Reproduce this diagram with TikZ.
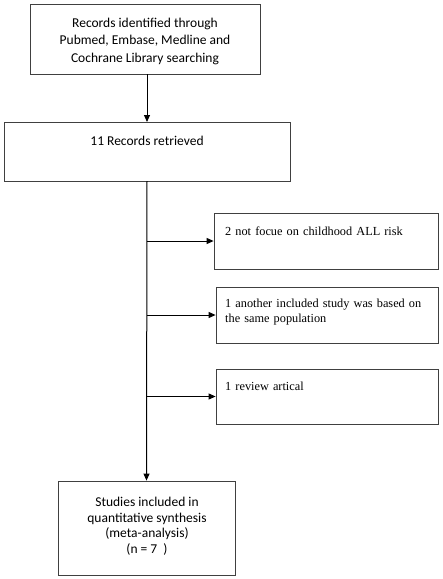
\documentclass[tikz,border=0pt]{standalone}
\usepackage{fontspec}
\setmainfont{Carlito}
\newfontfamily\tms{Liberation Serif}
\usetikzlibrary{arrows.meta}
\begin{document}
\begin{tikzpicture}[x=1pt,y=-1pt,
  boxc/.style={draw=black!75,line width=0.8pt,inner sep=0pt},
  flow/.style={draw=black,line width=1pt,-{Triangle[length=7pt,width=6pt]}},
  ctxt/.style={align=center,font=\fontsize{13.5}{17.5}\selectfont,inner sep=0pt},
  stxt/.style={align=left,anchor=north west,font=\tms\fontsize{12.3}{15}\selectfont,inner sep=0pt,text width=210pt}
]
\useasboundingbox (0,0) rectangle (443,579);
% boxes
\node[boxc,minimum width=230pt,minimum height=70pt] (b1) at (145,39) {};
\node[ctxt] (t1) at (145,41) {Records identified through\\Pubmed, Embase, Medline and\\Cochrane Library searching};
\node[boxc,minimum width=286pt,minimum height=59pt] (b2) at (147,151.5) {};
\node[ctxt] (t2) at (147,141) {11 Records retrieved};
\node[boxc,minimum width=224pt,minimum height=56pt] (bA) at (326,241) {};
\node[stxt] (tA) at (225,227) {2 not focue on childhood ALL risk};
\node[boxc,minimum width=222pt,minimum height=56pt] (bB) at (327,315) {};
\node[stxt] (tB) at (225,299) {1 another included study was based on\\the same population};
\node[boxc,minimum width=222pt,minimum height=55pt] (bC) at (327,396.5) {};
\node[stxt] (tC) at (225,382) {1 review artical};
\node[boxc,minimum width=177pt,minimum height=94pt] (b3) at (146.5,528) {};
\node[ctxt,font=\fontsize{13.5}{15.5}\selectfont] (t3) at (147,526) {Studies included in\\quantitative synthesis\\(meta-analysis)\\(n = 7~~)};
% connectors
\coordinate (a1) at (147,74);
\coordinate (a2) at (147,122);
\draw[flow] (a1) -- (a2);
\coordinate (c0) at (147,181);
\coordinate (cA) at (147,241);
\coordinate (cB) at (147,315);
\coordinate (cC) at (147,396.5);
\draw[flow] (c0) -- (b3.north);
\draw[flow] (cA) -- (bA.west);
\draw[flow] (cB) -- (bB.west);
\draw[flow] (cC) -- (bC.west);
\end{tikzpicture}
\end{document}
